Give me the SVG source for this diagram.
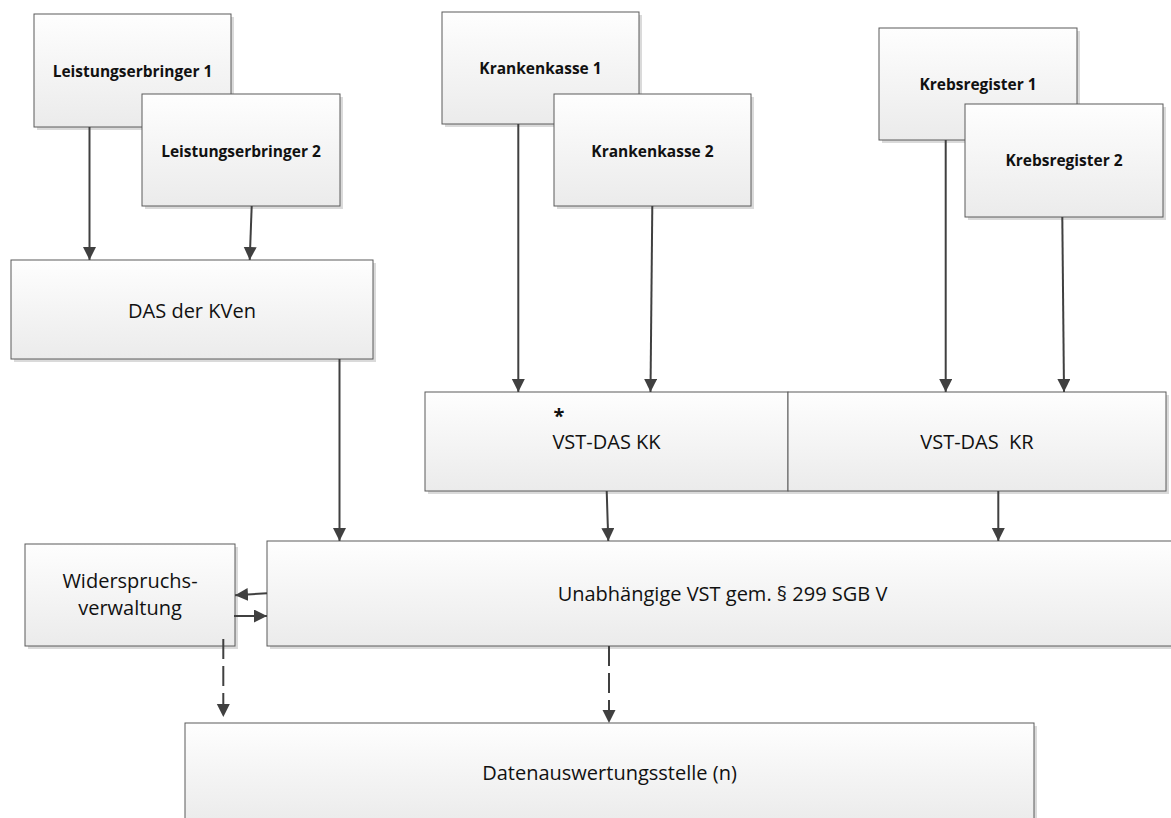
<svg xmlns="http://www.w3.org/2000/svg" width="1171" height="818" viewBox="0 0 1171 818">
<defs>
<linearGradient id="g" x1="0" y1="0" x2="0" y2="1">
<stop offset="0" stop-color="#fefefe"/>
<stop offset="1" stop-color="#ebebeb"/>
</linearGradient>
<marker id="ah" markerUnits="userSpaceOnUse" markerWidth="14" markerHeight="14" refX="13" refY="6.5" orient="auto">
<path d="M0,0 L13,6.5 L0,13 z" fill="#404040"/>
</marker>
<style>
.box{fill:url(#g);stroke:#5a5a5a;stroke-width:1}
.sh{fill:#dadada}
.b{font-family:"Open Sans","Liberation Sans",sans-serif;font-weight:bold;font-size:15.5px;fill:#111;text-anchor:middle}
.t{font-family:"Open Sans","Liberation Sans",sans-serif;font-size:20px;fill:#111;text-anchor:middle}
.c{fill:none;stroke:#404040;stroke-width:2;marker-end:url(#ah)}
.d{stroke-dasharray:20 7}
</style>
</defs>
<rect width="1171" height="818" fill="#fff"/>
<g id="le1"><rect class="sh" x="37" y="17" width="197" height="113"/><rect class="box" x="34" y="14" width="197" height="113"/><text class="b" x="132.5" y="77">Leistungserbringer 1</text></g>
<g id="le2"><rect class="sh" x="145" y="97" width="198" height="112"/><rect class="box" x="142" y="94" width="198" height="112"/><text class="b" x="241" y="157">Leistungserbringer 2</text></g>
<g id="kk1"><rect class="sh" x="445" y="15" width="197" height="112"/><rect class="box" x="442" y="12" width="197" height="112"/><text class="b" x="540.5" y="73.5">Krankenkasse 1</text></g>
<g id="kk2"><rect class="sh" x="557" y="97" width="197" height="112"/><rect class="box" x="554" y="94" width="197" height="112"/><text class="b" x="652.5" y="157">Krankenkasse 2</text></g>
<g id="kr1"><rect class="sh" x="882" y="31" width="198" height="112"/><rect class="box" x="879" y="28" width="198" height="112"/><text class="b" x="978" y="89.5">Krebsregister 1</text></g>
<g id="kr2"><rect class="sh" x="968" y="107" width="198" height="113"/><rect class="box" x="965" y="104" width="198" height="113"/><text class="b" x="1064" y="166">Krebsregister 2</text></g>
<g id="das"><rect class="sh" x="14" y="263" width="362" height="99"/><rect class="box" x="11" y="260" width="362" height="99"/><text class="t" x="192" y="318">DAS der KVen</text></g>
<g id="vstkk"><rect class="sh" x="428" y="395" width="363" height="99"/><rect class="box" x="425" y="392" width="363" height="99"/><text class="t" x="559" y="423" font-weight="bold">*</text><text class="t" x="606.5" y="449">VST-DAS KK</text></g>
<g id="vstkr"><rect class="sh" x="791" y="395" width="378" height="99"/><rect class="box" x="788" y="392" width="378" height="99"/><text class="t" x="977" y="449" xml:space="preserve">VST-DAS  KR</text></g>
<g id="wider"><rect class="sh" x="28" y="547" width="210" height="102"/><rect class="box" x="25" y="544" width="210" height="102"/><text class="t" x="130" y="588">Widerspruchs-</text><text class="t" x="130" y="615">verwaltung</text></g>
<g id="unab"><rect class="sh" x="270" y="544" width="912" height="105"/><rect class="box" x="267" y="541" width="912" height="105"/><text class="t" x="722.5" y="601">Unabhängige VST gem. § 299 SGB V</text></g>
<g id="daten"><rect class="sh" x="188" y="726" width="849" height="100"/><rect class="box" x="185" y="723" width="849" height="100"/><text class="t" x="609.5" y="780">Datenauswertungsstelle (n)</text></g>
<g id="connectors">
<line class="c" x1="89.5" y1="127" x2="89.5" y2="260"/>
<line class="c" x1="251.7" y1="206" x2="249.7" y2="260"/>
<line class="c" x1="339.5" y1="359" x2="339.5" y2="541"/>
<line class="c" x1="518.3" y1="124" x2="518.3" y2="392"/>
<line class="c" x1="652.3" y1="206" x2="650.5" y2="392"/>
<line class="c" x1="945.7" y1="140" x2="945.7" y2="392"/>
<line class="c" x1="1062.3" y1="217" x2="1064" y2="392"/>
<line class="c" x1="606.7" y1="491" x2="608.3" y2="541"/>
<line class="c" x1="998.3" y1="491" x2="998.3" y2="541"/>
<line class="c" x1="267" y1="593.3" x2="235" y2="595.3"/>
<line class="c" x1="234" y1="616" x2="267" y2="616"/>
<line class="c d" x1="223.3" y1="639" x2="223.3" y2="717"/>
<line class="c d" x1="609" y1="646" x2="609" y2="723"/>
</g>
</svg>
